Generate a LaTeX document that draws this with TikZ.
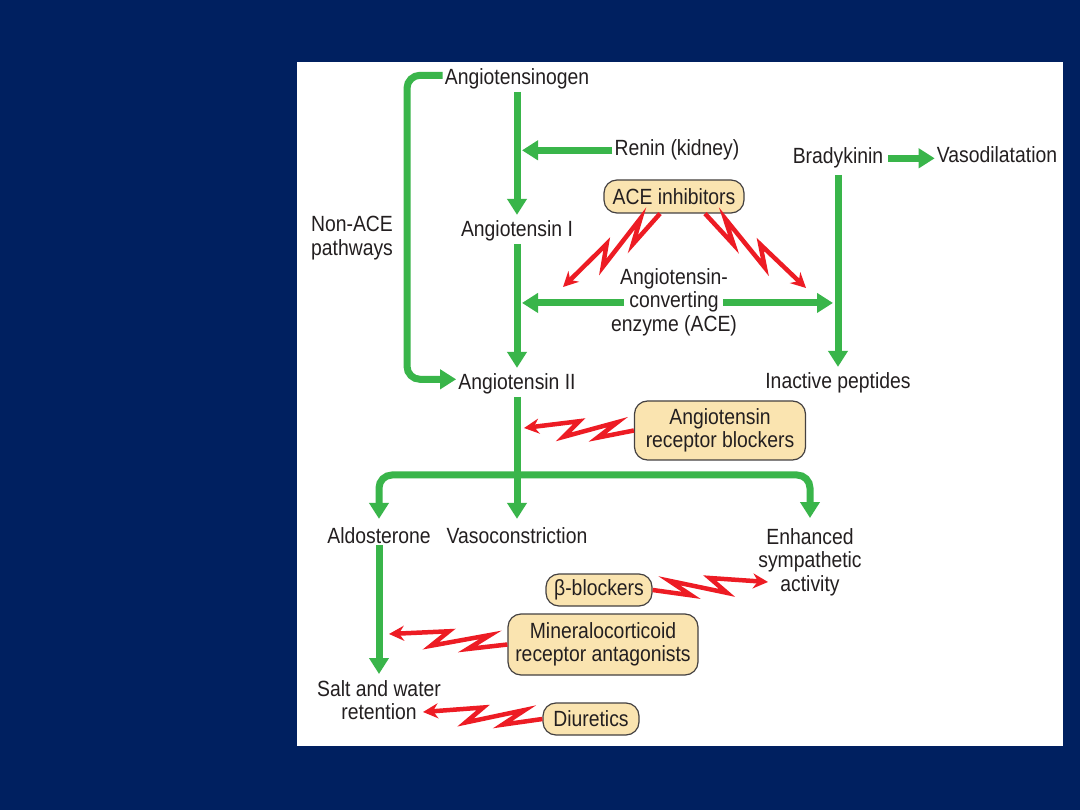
\documentclass[tikz,border=0pt]{standalone}
\usepackage{fontspec}
\setmainfont{Liberation Sans}[FakeStretch=0.88]
\usetikzlibrary{arrows.meta,calc}
\definecolor{navy}{RGB}{0,32,96}
\definecolor{gr}{RGB}{57,181,74}
\definecolor{rd}{RGB}{237,28,36}
\definecolor{boxfill}{RGB}{250,228,176}
\definecolor{ink}{RGB}{35,31,32}
\newcommand\zap[3]{\draw[zapline] (#1)
  -- ($(#1)!0.33!(#2)!8pt!#3:(#2)$)
  -- ($(#1)!0.15!(#2)!8pt!#3:(#1)$)
  -- ($(#1)!0.64!(#2)!8pt!#3:(#2)$)
  -- ($(#1)!0.50!(#2)!8pt!#3:(#1)$)
  -- (#2);}
\begin{document}
\begin{tikzpicture}[x=1pt,y=-1pt,
  lbl/.style={font=\fontsize{22}{23.5}\selectfont, text=ink, inner sep=2pt, align=center},
  drug/.style={lbl, draw=ink!85, fill=boxfill, line width=1.2pt, rounded corners=13pt, inner xsep=5pt, inner ysep=4pt},
  garrow/.style={draw=gr, line width=7pt, -{Triangle[length=16pt,width=19pt]}},
  zapline/.style={draw=rd, line width=4.5pt, line join=miter, -{Stealth[length=15pt,width=15pt,inset=5pt]}}]
\fill[navy] (0,0) rectangle (1080,810);
\fill[white] (297,62) rectangle (1063,746);
\useasboundingbox (0,0) rectangle (1080,810);

% labels
\node[lbl, anchor=base] (angen) at (517,85) {Angiotensinogen};
\node[lbl, anchor=base] (renin) at (677,156) {Renin (kidney)};
\node[lbl, anchor=base] (ang1) at (517,237) {Angiotensin I};
\node[lbl, anchor=base] (ang2) at (517,390) {Angiotensin II};
\node[lbl, anchor=north] (nonace) at (352,214) {Non-ACE\\pathways};
\node[lbl, anchor=north] (ace) at (674,266) {Angiotensin-\\converting\\enzyme (ACE)};
\node[lbl, anchor=base] (brady) at (838,164) {Bradykinin};
\node[lbl, anchor=base] (vasod) at (997,163) {Vasodilatation};
\node[lbl, anchor=base] (inact) at (838,389) {Inactive peptides};
\node[lbl, anchor=base] (aldo) at (379,543) {Aldosterone};
\node[lbl, anchor=base] (vasoc) at (517,543) {Vasoconstriction};
\node[lbl, anchor=north] (ess) at (810,526) {Enhanced\\sympathetic\\activity};
\node[lbl, anchor=north] (salt) at (379,678) {Salt and water\\retention};

% drug boxes
\node[drug, minimum width=140pt, minimum height=33pt] (acei) at (674,196.5) {ACE inhibitors};
\node[drug, minimum width=171pt, minimum height=59pt] (arb) at (720,430.5) {Angiotensin\\receptor blockers};
\node[drug, minimum width=106pt, minimum height=32pt] (betab) at (599,590) {β-blockers};
\node[drug, minimum width=190pt, minimum height=61pt] (mra) at (603,644.5) {Mineralocorticoid\\receptor antagonists};
\node[drug, minimum width=96pt, minimum height=32pt] (diur) at (591,719) {Diuretics};

% green connectors
\draw[garrow, shorten >=4pt] (angen) -- (ang1);
\draw[garrow, shorten >=5pt] (renin.west) -- (renin.west -| angen);
\draw[garrow, shorten >=4pt] (ang1) -- (ang2);
\coordinate (aceL) at ($(ace.center)+(-50,1)$);
\coordinate (aceR) at ($(ace.center)+(49,1)$);
\draw[garrow, shorten >=5pt] (aceL) -- (aceL -| ang1);
\draw[garrow, shorten >=5pt] (aceR) -- (aceR -| brady);
\draw[garrow, shorten <=4pt, shorten >=4pt] (brady) -- (inact);
\draw[garrow, shorten <=3pt] (brady.east) -- (brady.east -| vasod.west);
\coordinate (bkx) at (407,0);
\coordinate (bk1) at ($(angen.west)+(0,-4)$);
\coordinate (bk2) at ($(ang2.west)+(0,-5)$);
\draw[garrow, rounded corners=13pt] (bk1) -- (bk1 -| bkx) -- (bk2 -| bkx) -- (bk2);
\draw[garrow, shorten >=6pt] (ang2) -- (vasoc);
\coordinate (br) at (517,475);
\draw[garrow, rounded corners=13pt, shorten >=6pt] (br) -| (aldo);
\draw[garrow, rounded corners=13pt, shorten >=8pt] (br) -| (ess);
\draw[garrow, shorten >=4pt] (aldo) -- (salt);

% red inhibition bolts
\coordinate (z1s) at ($(acei.south)+(-14,0)$);
\coordinate (z1t) at (563,287);
\coordinate (z2s) at ($(acei.south)+(31,0)$);
\coordinate (z2t) at (806,288);
\coordinate (z3t) at (524,428);
\coordinate (z4t) at (768,582);
\coordinate (z5t) at (389,634);
\coordinate (z6t) at (423,712);
\zap{z1s}{z1t}{90}
\zap{z2s}{z2t}{-90}
\zap{arb.west}{z3t}{90}
\zap{betab.east}{z4t}{-90}
\zap{mra.west}{z5t}{90}
\zap{diur.west}{z6t}{90}
\end{tikzpicture}
\end{document}
